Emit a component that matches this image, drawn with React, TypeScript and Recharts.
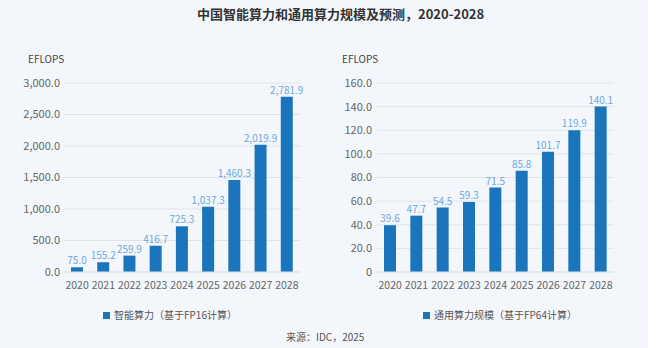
import { BarChart, Bar, XAxis, YAxis, CartesianGrid, LabelList } from 'recharts'

const years = ['2020', '2021', '2022', '2023', '2024', '2025', '2026', '2027', '2028']
const aiCompute = [75.0, 155.2, 259.9, 416.7, 725.3, 1037.3, 1460.3, 2019.9, 2781.9]
const generalCompute = [39.6, 47.7, 54.5, 59.3, 71.5, 85.8, 101.7, 119.9, 140.1]
const aiTicks = [0, 500, 1000, 1500, 2000, 2500, 3000]
const generalTicks = [0, 20, 40, 60, 80, 100, 120, 140, 160]

const FONT = '"Noto Sans CJK SC", "Noto Sans", sans-serif'
const BAR = '#1b75bc'
const LABEL = '#6ea8db'
const GRID = '#dfe4ea'
const YTICK = { fill: '#666', fontSize: 11, fontFamily: FONT }
const XTICK = { fill: '#666', fontSize: 10.5, fontFamily: FONT }

const aiData = years.map((y, i) => ({ year: y, value: aiCompute[i] }))
const generalData = years.map((y, i) => ({ year: y, value: generalCompute[i] }))

const fmt1 = (v: number) =>
  v.toLocaleString('en-US', { minimumFractionDigits: 1, maximumFractionDigits: 1 })

function Panel({ data, ticks, max, yWidth, right, tickFmt, tickGap }: any) {
  return (
    <BarChart
      width={yWidth === 64 ? 320 : 341}
      height={300}
      data={data}
      margin={{ top: 83, right, bottom: 8, left: 0 }}
      barSize={12}
    >
      <CartesianGrid vertical={false} stroke={GRID} />
      <XAxis
        dataKey="year"
        tick={XTICK}
        tickLine={false}
        axisLine={{ stroke: GRID }}
        interval={0}
        height={20}
        tickMargin={4}
      />
      <YAxis
        domain={[0, max]}
        ticks={ticks}
        tick={YTICK}
        tickFormatter={tickFmt}
        tickLine={false}
        axisLine={false}
        tickSize={0}
        tickMargin={tickGap}
        width={yWidth}
        interval={0}
      />
      <Bar dataKey="value" fill={BAR} isAnimationActive={false}>
        <LabelList
          dataKey="value"
          position="top"
          offset={3}
          formatter={(v: any) => fmt1(Number(v))}
          style={{ fill: LABEL, fontSize: 10, fontFamily: FONT }}
        />
      </Bar>
    </BarChart>
  )
}

const abs = (left: number, top: number, extra: any = {}) => ({
  position: 'absolute' as const,
  left,
  top,
  whiteSpace: 'nowrap' as const,
  fontFamily: FONT,
  ...extra,
})

export default function App() {
  return (
    <div style={{ position: 'relative', width: 661, height: 348, background: '#fff', overflow: 'hidden' }}>
      <style>{`body{margin:0}`}</style>
      <div style={{ position: 'absolute', left: 0, top: 0, width: 648, height: 348, background: '#f3f7fb' }} />
      <div style={abs(197, 5, { fontSize: 13, fontWeight: 700, color: '#333', lineHeight: '18px' })}>
        中国智能算力和通用算力规模及预测，2020-2028
      </div>

      <div style={abs(28, 52, { fontSize: 10, color: '#444', lineHeight: '14px' })}>EFLOPS</div>
      <div style={abs(342, 52, { fontSize: 10, color: '#444', lineHeight: '14px' })}>EFLOPS</div>

      <div style={{ position: 'absolute', left: 0, top: 0 }}>
        <Panel data={aiData} ticks={aiTicks} max={3000} yWidth={64} right={20} tickFmt={fmt1} tickGap={4} />
      </div>
      <div style={{ position: 'absolute', left: 320, top: 0 }}>
        <Panel
          data={generalData}
          ticks={generalTicks}
          max={160}
          yWidth={57}
          right={47}
          tickFmt={(v: number) => (v === 0 ? '0' : fmt1(v))}
          tickGap={5}
        />
      </div>

      <div style={abs(103, 308, { fontSize: 10, color: '#555', lineHeight: '14px', display: 'flex', alignItems: 'center' })}>
        <span style={{ width: 7, height: 7, background: BAR, marginRight: 4, display: 'inline-block' }} />
        智能算力（基于FP16计算）
      </div>
      <div style={abs(423, 308, { fontSize: 10, color: '#555', lineHeight: '14px', display: 'flex', alignItems: 'center' })}>
        <span style={{ width: 7, height: 7, background: BAR, marginRight: 4, display: 'inline-block' }} />
        通用算力规模（基于FP64计算）
      </div>
      <div style={abs(286, 330, { fontSize: 10, color: '#555', lineHeight: '14px' })}>来源：IDC，2025</div>
    </div>
  )
}
